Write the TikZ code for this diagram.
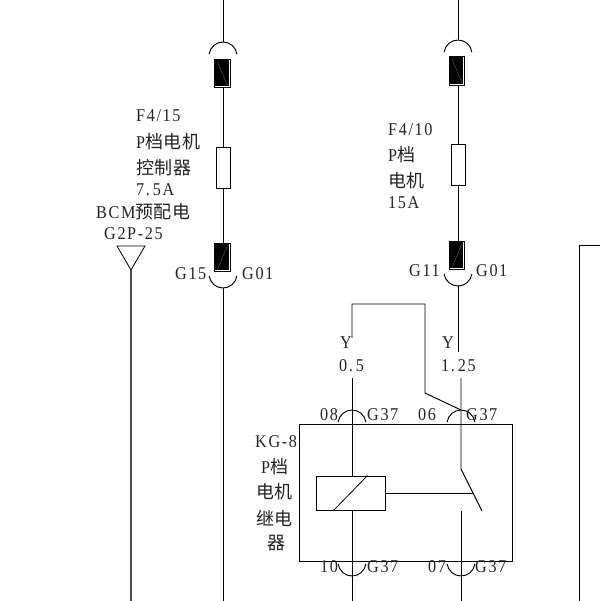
\documentclass[tikz,border=0pt]{standalone}
\usepackage{fontspec}
\setmainfont[LetterSpace=9,FakeStretch=0.9]{Liberation Serif}
\newfontfamily\cjk[LetterSpace=3]{Noto Sans CJK SC}
\definecolor{Ink}{RGB}{35,35,35}
\newcommand{\capup}[1]{\draw [wire] (#1) arc[start angle=270, delta angle=82, radius=14] (#1) arc[start angle=270, delta angle=-82, radius=14];}
\newcommand{\capdown}[1]{\draw [wire] (#1) arc[start angle=90, delta angle=82, radius=14] (#1) arc[start angle=90, delta angle=-82, radius=14];}
\tikzset{
	wire/.style={draw=black, line width=0.95pt},
	fuse/.style={draw=black, line width=0.8pt, fill=white, minimum width=14pt, minimum height=41pt, inner sep=0pt},
	block/.style={draw=black, line width=0.9pt, fill=white, minimum width=15.5pt, minimum height=28.5pt, inner sep=0pt},
	label/.style={anchor=west, inner sep=0pt, text=Ink, font=\fontsize{18}{18}\selectfont},
}
\begin{document}
\begin{tikzpicture}[x=1pt, y=-1pt]
	\useasboundingbox (0,0) rectangle (600,601);

	% Wire ends
	\coordinate (leftTop) at (223,0);
	\coordinate (leftEnd) at (223,601);
	\coordinate (midTop) at (458,0);
	\coordinate (midEnd) at (458,352);
	\coordinate (capA) at (223,42);
	\coordinate (capB) at (223,288);
	\coordinate (capC) at (458,40);
	\coordinate (capD) at (458,286);
	\coordinate (capE) at (352,410);
	\coordinate (capF) at (461,410);
	\coordinate (capG) at (352,576);
	\coordinate (capH) at (461,576);

	% Fuses and connector blocks
	\node [fuse] (fuseA) at (223,167.5) {};
	\node [fuse] (fuseB) at (458,164.5) {};
	\foreach \name/\x/\y/\sx/\sy/\ex/\ey in {blockA/222.5/73.5/-5/-12/5/12, blockB/222.5/257.5/-5/12/5/-12, blockC/457/71/-5/-12/5/12, blockD/457/255.5/-5/12/5/-12} {
		\node [block] (\name) at (\x,\y) {};
		\fill [black] (\name.north west) rectangle ([xshift=-2pt, yshift=2pt]\name.south east);
		\draw [black!55, line width=0.3pt] ([xshift=\sx pt, yshift=-\sy pt]\name.center) -- ([xshift=\ex pt, yshift=-\ey pt]\name.center);
	}

	% Left line
	\draw [wire] (leftTop) -- (capA);
	\draw [wire] (blockA.south -| fuseA.north) -- (fuseA.north);
	\draw [wire] (fuseA.south) -- (blockB.north -| fuseA.south);
	\draw [wire] (capB) -- (leftEnd);
	\capup{capA}
	\capdown{capB}

	% Middle line
	\draw [wire] (midTop) -- (capC);
	\draw [wire] (blockC.south -| fuseB.north) -- (fuseB.north);
	\draw [wire] (fuseB.south) -- (blockD.north -| fuseB.south);
	\draw [wire] (capD) -- (midEnd);
	\capup{capC}
	\capdown{capD}

	% BCM triangle
	\coordinate (triL) at (117,246);
	\coordinate (triR) at (145,246);
	\coordinate (triTip) at (131,270);
	\coordinate (triEnd) at (131,601);
	\draw [wire, line width=0.8pt] (triL) -- (triR) -- (triTip) -- cycle;
	\draw [wire, draw=black!70, line width=1.1pt] (triTip) -- (triEnd);

	% Frame on the right
	\coordinate (frameA) at (579,601);
	\coordinate (frameB) at (579,245);
	\coordinate (frameC) at (600,245);
	\draw [wire] (frameA) -- (frameB) -- (frameC);

	% Relay
	\node [draw=black, line width=0.95pt, minimum width=213pt, minimum height=137pt, inner sep=0pt] (relay) at (405.5,492.5) {};
	\node [draw=black, line width=0.95pt, minimum width=69pt, minimum height=34pt, inner sep=0pt] (coil) at (350.5,493) {};
	\draw [wire, line width=0.8pt] ([xshift=-17pt]coil.south) -- ([xshift=17pt]coil.north);
	\coordinate (jumpA) at (352,338);
	\coordinate (jumpB) at (352,304);
	\coordinate (jumpC) at (425,304);
	\coordinate (jumpD) at (425,393);
	\coordinate (wireA) at (352,378);
	\coordinate (wireB) at (461,378);
	\coordinate (wireC) at (352,601);
	\coordinate (wireD) at (461,601);
	\coordinate (contactA) at (461,469);
	\coordinate (contactB) at (482,511);
	\coordinate (contactC) at (461,511);
	\coordinate (contactM) at (473,493);
	\draw [wire] (jumpA) -- (jumpB) -- (jumpC) -- (jumpD) -- (capF);
	\draw [wire] (wireA) -- (coil.north -| wireA);
	\draw [wire] (coil.south -| wireA) -- (wireC);
	\draw [wire] (wireB) -- (contactA) -- (contactB);
	\draw [wire] (contactC) -- (wireD);
	\draw [wire] (coil.east) -- (contactM);
	\capup{capE}
	\capup{capF}
	\capdown{capG}
	\capdown{capH}

	% Text
	\node [label] (tF) at (136,116) {F4/15};
	\node [label] (tG) at (136,142) {P{\cjk 档电机}};
	\node [label] (tH) at (136,168) {{\cjk 控制器}};
	\node [label] (tI) at (136,190) {7.\kern3pt 5A};
	\node [label] (tJ) at (96,212) {BCM{\cjk 预配电}};
	\node [label] (tK) at (104,234) {G2P-25};
	\node [label] (tL) at (175,274) {G15};
	\node [label] (tM) at (242,274) {G01};

	\node [label] (tN) at (388,130) {F4/10};
	\node [label] (tO) at (388,155) {P{\cjk 档}};
	\node [label] (tP) at (388,181) {{\cjk 电机}};
	\node [label] (tQ) at (388,203) {15A};
	\node [label] (tR) at (409,271) {G11};
	\node [label] (tS) at (476,271) {G01};

	\node [label] (tT) at (340,343) {Y};
	\node [label] (tU) at (339,366) {0.\kern3pt 5};
	\node [label] (tV) at (442,343) {Y};
	\node [label] (tW) at (441,366) {1.\kern3pt 25};

	\node [label] (tX) at (320,415) {08};
	\node [label] (tY) at (367,415) {G37};
	\node [label] (tZ) at (418,415) {06};
	\node [label] (uA) at (466,415) {G37};

	\node [label] (uB) at (255,442) {KG-8};
	\node [label] (uC) at (261,467) {P{\cjk 档}};
	\node [label] (uD) at (256,492) {{\cjk 电机}};
	\node [label] (uE) at (256,518) {{\cjk 继电}};
	\node [label] (uF) at (267,543) {{\cjk 器}};

	\node [label] (uG) at (320,567) {10};
	\node [label] (uH) at (367,567) {G37};
	\node [label] (uI) at (428,567) {07};
	\node [label] (uJ) at (475,567) {G37};
\end{tikzpicture}
\end{document}
